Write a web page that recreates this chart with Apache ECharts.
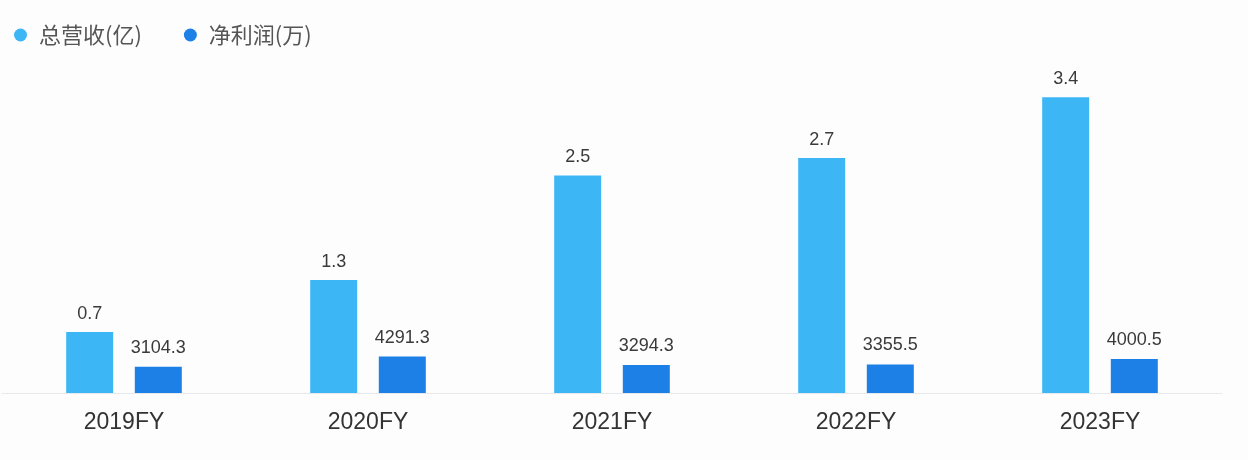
<!DOCTYPE html>
<html><head><meta charset="utf-8">
<script src="https://cdn.jsdelivr.net/npm/echarts@6/dist/echarts.min.js"></script>
<style>html,body{margin:0;padding:0;background:#fff}#c{width:1248px;height:460px}</style>
</head><body><div id="c"></div>
<script>
var categories = ['2019FY','2020FY','2021FY','2022FY','2023FY'];
var revenue = [0.7, 1.3, 2.5, 2.7, 3.4];
var profit = [3104.3, 4291.3, 3294.3, 3355.5, 4000.5];
var seriesNames = ['总营收(亿)', '净利润(万)'];

var chart = echarts.init(document.getElementById('c'));
var font = '"Noto Sans CJK SC", "Liberation Sans", sans-serif';
var latin = '"Liberation Sans", Arial, sans-serif';
chart.setOption({
  backgroundColor: '#fdfdfe',
  animation: false,
  textStyle: {fontFamily: font},
  legend: {
    left: 9, top: 19, itemWidth: 13, itemHeight: 13, itemGap: 42, icon: 'circle',
    textStyle: {fontSize: 22, color: '#555', fontFamily: font, padding: [0, 0, 0, 7]}
  },
  grid: {left: 2, right: 26, top: 45, bottom: 67},
  xAxis: {
    type: 'category', data: categories,
    axisLine: {lineStyle: {color: '#e6e8ec'}},
    axisTick: {show: false},
    axisLabel: {fontSize: 23, color: '#333', margin: 18, fontFamily: latin}
  },
  yAxis: [
    {type: 'value', min: 0, max: 4, show: false, splitLine: {show: false}},
    {type: 'value', min: 0, max: 41000, show: false, splitLine: {show: false}}
  ],
  series: [
    {name: seriesNames[0], type: 'bar', yAxisIndex: 0, data: revenue, barWidth: 47, barGap: '46%',
     itemStyle: {color: '#3db6f5'},
     label: {show: true, position: 'top', distance: 9, fontSize: 18, color: '#3a3a3a', fontFamily: latin}},
    {name: seriesNames[1], type: 'bar', yAxisIndex: 1, data: profit, barWidth: 47,
     itemStyle: {color: '#1d80e6'},
     label: {show: true, position: 'top', distance: 10, fontSize: 18, color: '#3a3a3a', fontFamily: latin}}
  ]
});
</script></body></html>
